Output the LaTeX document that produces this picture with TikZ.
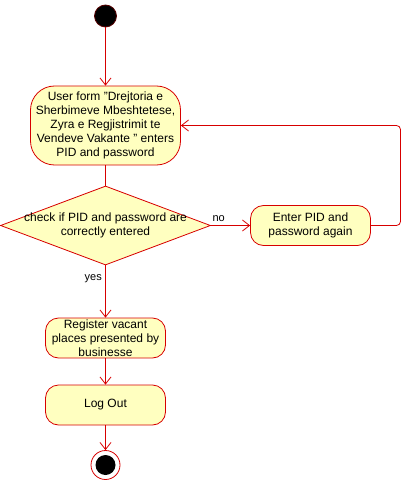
\documentclass[tikz,border=0pt]{standalone}
\usepackage{fontspec}
\setmainfont{Liberation Sans}
\usetikzlibrary{shapes.geometric}
\usetikzlibrary{arrows.meta}
\definecolor{umlred}{RGB}{215,0,0}
\definecolor{umlfill}{RGB}{255,255,192}
\tikzset{every path/.style={line width=0.8pt}}
\tikzset{action/.style={draw=umlred, fill=umlfill, rounded corners=13pt, minimum width=120pt, minimum height=40pt, align=center, inner sep=1pt, font=\fontsize{12}{14}\selectfont}}
\tikzset{bigaction/.style={action, rounded corners=24pt, minimum width=150pt, minimum height=79pt}}
\tikzset{decision/.style={diamond, draw=umlred, fill=umlfill, minimum width=210pt, minimum height=79pt, inner sep=0pt}}
\tikzset{startnode/.style={circle, draw=umlred!40!black, fill=black, minimum size=22pt, inner sep=0pt}}
\tikzset{endnode/.style={circle, draw=umlred, fill=white, minimum size=29pt, inner sep=0pt,
  path picture={\fill[black] (path picture bounding box.center) circle (10pt);}}}
\tikzset{flow/.style={draw=umlred, -{Straight Barb[length=7pt,width=11pt]}}}
\tikzset{%
  apply style/.code={%
    \tikzset{#1}%
  }
}

\begin{document}
\begin{tikzpicture}[x=1pt,y=-1pt]
  \useasboundingbox (0,0) rectangle (411,481);
  \node[startnode] (start) at (105.5,16) {};
  \foreach \x/\y/\style/\lab/\name in {
    105.5/125.5/bigaction/login/{User form "Drejtoria e\\Sherbimeve Mbeshtetese,\\Zyra e Regjistrimit te\\Vendeve Vakante " enters\\PID and password},
    310.5/225.5/action/again/{Enter PID and\\password again},
    105.5/338/action/register/{Register vacant\\places presented by\\businesse},
    105.5/405/action/logout/{Log Out}%
  } {
    \node[apply style/.expand once=\style] (\lab) at (\x, \y) {\name};
  }
  \node[decision] (check) at (105.5,225.5) {};
  \node[font=\fontsize{12}{14}\selectfont, align=center] (checktext) at (check) {check if PID and password are\\correctly entered};
  \node[endnode] (end) at (105.5,465) {};
  \coordinate (loop) at (400.5,125.5);

  \draw[umlred] (login) -- (check);
  \foreach \u/\v in {start/login, register/logout, logout/end}{
    \draw[flow] (\u) -- (\v);
  }
  \draw[flow] (check.east) -- node[pos=0.2, above, font=\fontsize{11}{13}\selectfont] (no) {no} (again.west);
  \draw[flow] (check.south) -- node[pos=0.25, left, font=\fontsize{11}{13}\selectfont] (yes) {yes} (register.north);
  \draw[flow, rounded corners=4pt] (again.east) -| (loop) -- (login.east);
\end{tikzpicture}
\end{document}
